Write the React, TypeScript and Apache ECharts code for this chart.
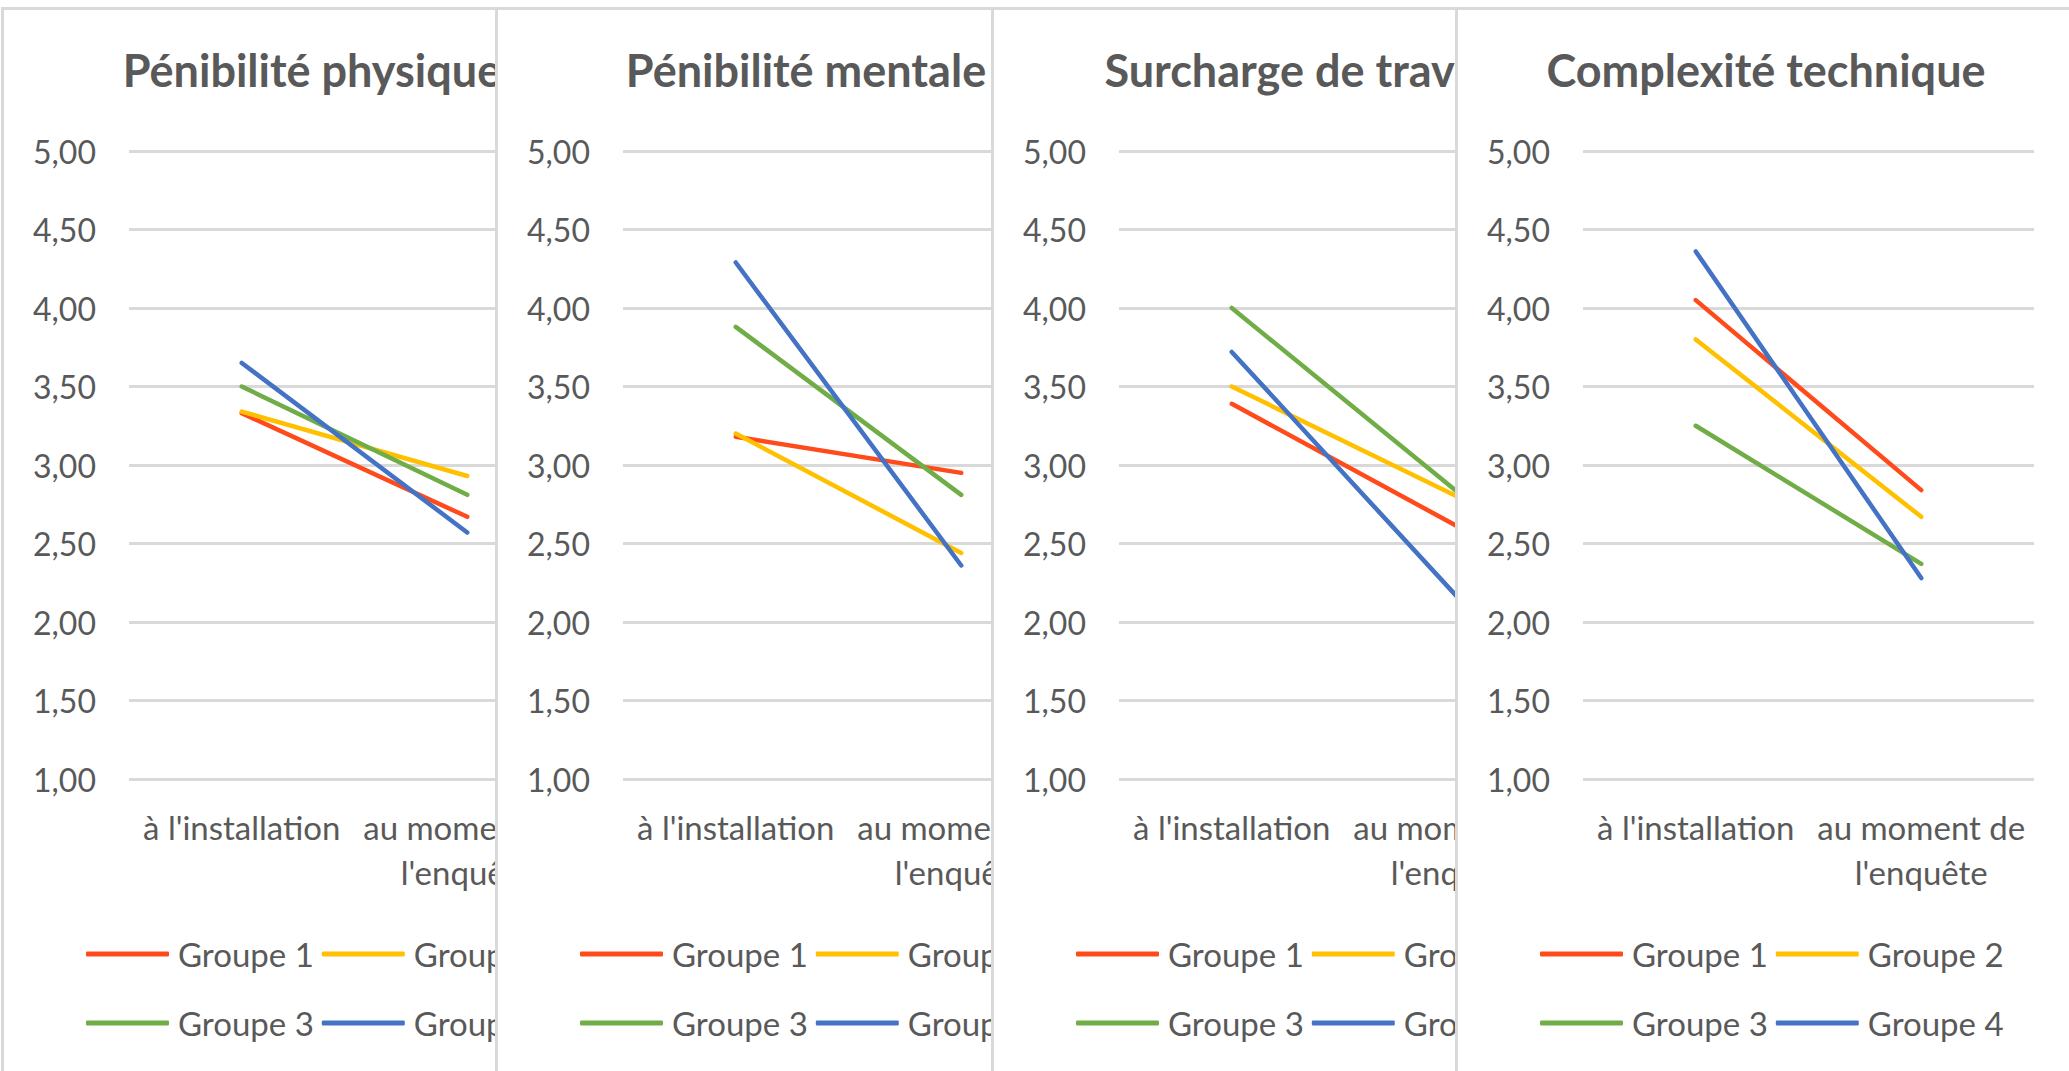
import React, { useEffect, useRef } from 'react';
import * as echarts from 'echarts';

// ---- Data ----
const categories = ["à l'installation", "au moment de l'enquête"];
const groups = ['Groupe 1', 'Groupe 2', 'Groupe 3', 'Groupe 4'];
const titles = ['Pénibilité physique', 'Pénibilité mentale', 'Surcharge de travail', 'Complexité technique'];

// values per group: [à l'installation, au moment de l'enquête]
const penibilitePhysique = [[3.33, 2.67], [3.34, 2.93], [3.5, 2.81], [3.65, 2.57]];
const penibiliteMentale = [[3.18, 2.95], [3.2, 2.44], [3.88, 2.81], [4.29, 2.36]];
const surchargeTravail = [[3.39, 2.61], [3.5, 2.8], [4.0, 2.83], [3.72, 2.16]];
const complexiteTechnique = [[4.05, 2.84], [3.8, 2.67], [3.25, 2.37], [4.36, 2.28]];

const panelData = [penibilitePhysique, penibiliteMentale, surchargeTravail, complexiteTechnique];

// ---- Styles / layout ----
const groupColors = ['#FF4A1C', '#FFC000', '#70AD47', '#4472C4'];
const panelLefts = [1, 495, 991, 1455];
const TEXT = '#595959';
const GRID = '#D9D9D9';
const FONT = 'Lato';

function Panel({ title, values, left, z }: { title: string; values: number[][]; left: number; z: number }) {
  const ref = useRef<HTMLDivElement>(null);
  useEffect(() => {
    const chart = echarts.init(ref.current as HTMLDivElement, null, { renderer: 'svg' });
    const legendBase = {
      left: 82,
      padding: 0,
      orient: 'horizontal',
      icon: 'roundRect',
      itemWidth: 83,
      itemHeight: 5,
      itemGap: 8,
      textStyle: { fontSize: 33, color: TEXT, lineHeight: 40, padding: [0, 0, 0, 4], fontFamily: FONT },
    };
    chart.setOption({
      animation: false,
      textStyle: { fontFamily: FONT },
      title: {
        text: title,
        left: 'center',
        top: 37,
        padding: 0,
        textStyle: { fontSize: 45, fontWeight: 'bold', color: TEXT, lineHeight: 46, fontFamily: FONT },
      },
      grid: { left: 125, top: 141, width: 451, height: 628 },
      xAxis: {
        type: 'category',
        data: categories,
        boundaryGap: true,
        axisLine: { show: false },
        axisTick: { show: false },
        axisLabel: {
          interval: 0,
          margin: 25,
          fontSize: 33,
          lineHeight: 45,
          color: TEXT,
          fontFamily: FONT,
          formatter: (v: string) => v.replace(" de l'", " de\nl'"),
        },
      },
      yAxis: {
        type: 'value',
        min: 1,
        max: 5,
        interval: 0.5,
        axisLine: { show: false },
        axisTick: { show: false },
        axisLabel: {
          margin: 33,
          fontSize: 32,
          color: TEXT,
          fontFamily: FONT,
          formatter: (v: number) => v.toFixed(2).replace('.', ','),
        },
        splitLine: { lineStyle: { color: GRID, width: 3 } },
      },
      legend: [
        { ...legendBase, data: [groups[0], groups[1]], top: 924 },
        { ...legendBase, data: [groups[2], groups[3]], top: 993 },
      ],
      series: groups.map((g, i) => ({
        type: 'line',
        name: g,
        data: values[i],
        symbol: 'none',
        color: groupColors[i],
        itemStyle: { color: groupColors[i] },
        lineStyle: { width: 4.5, color: groupColors[i], cap: 'round' },
      })),
    });
    return () => chart.dispose();
  }, []);
  return (
    <div
      style={{
        position: 'absolute',
        left,
        top: 7,
        width: 622,
        height: 1100,
        boxSizing: 'border-box',
        border: '3px solid #D9D9D9',
        background: '#ffffff',
        zIndex: z,
      }}
    >
      <div ref={ref} style={{ width: 616, height: 1094 }} />
    </div>
  );
}

export default function App() {
  return (
    <div
      style={{
        position: 'fixed',
        left: 0,
        top: 0,
        width: 2069,
        height: 1071,
        overflow: 'hidden',
        background: '#ffffff',
      }}
    >
      {titles.map((t, i) => (
        <Panel key={t} title={t} values={panelData[i]} left={panelLefts[i]} z={i + 1} />
      ))}
    </div>
  );
}
